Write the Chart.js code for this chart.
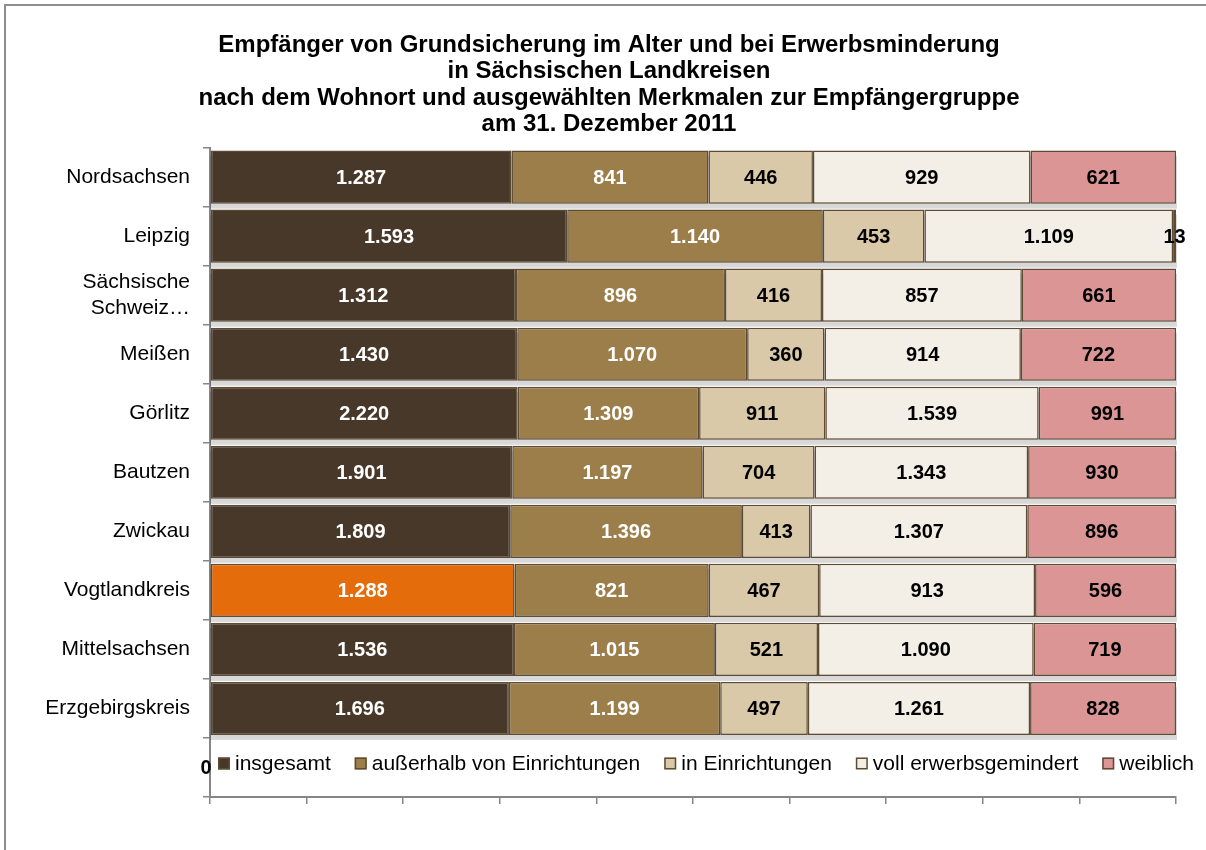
<!DOCTYPE html>
<html lang="de">
<head>
<meta charset="utf-8">
<script src="https://cdn.jsdelivr.net/npm/chart.js@4.4.1/dist/chart.umd.min.js"></script>
<style>
	body { margin: 0; background: #fff; }
	#wrap { position: relative; width: 1206px; height: 850px; overflow: hidden; }
	#rahmen {
		position: absolute; left: 4px; top: 4px; width: 1300px; height: 1000px;
		border-left: 2px solid #8e8e8e; border-top: 2px solid #8e8e8e;
	}
	#grafik { position: absolute; left: 0; top: 0; }
</style>
</head>
<body>
<div id="wrap">
	<div id="rahmen"></div>
	<canvas id="grafik" width="1206" height="850"></canvas>
</div>
<script>
// Landkreise (letzte Zeile leer, dort steht die Legende)
const kreise = ["Nordsachsen", "Leipzig", ["Sächsische", "Schweiz…"], "Meißen", "Görlitz",
	"Bautzen", "Zwickau", "Vogtlandkreis", "Mittelsachsen", "Erzgebirgskreis", ""];

const insgesamt = [1287, 1593, 1312, 1430, 2220, 1901, 1809, 1288, 1536, 1696, 0];
const ausserhalb = [841, 1140, 896, 1070, 1309, 1197, 1396, 821, 1015, 1199, 0];
const inEinrichtungen = [446, 453, 416, 360, 911, 704, 413, 467, 521, 497, 0];
const vollErwerbsgemindert = [929, 1109, 857, 914, 1539, 1343, 1307, 913, 1090, 1261, 0];
const weiblich = [621, 13, 661, 722, 991, 930, 896, 596, 719, 828, 0];

const reihenNamen = ["insgesamt", "außerhalb von Einrichtungen", "in Einrichtungen", "voll erwerbsgemindert", "weiblich"];
const reihenWerte = [insgesamt, ausserhalb, inEinrichtungen, vollErwerbsgemindert, weiblich];

// Farben
const farben = ["#47382a", "#9c7e4a", "#d9c9a9", "#f3efe6", "#db9595"];
const textFarben = ["#ffffff", "#ffffff", "#000000", "#000000", "#000000"];
const rand = "#5e4b33";
const hervorgehoben = 7; // Vogtlandkreis
const orange = "#e46c0a";

const schrift = "Arial, 'Liberation Sans', sans-serif";

// Summe je Kreis für 100%-Darstellung
const summen = kreise.map((k, i) => reihenWerte.reduce((s, r) => s + r[i], 0));

function format(zahl) {
	return String(zahl).replace(/\B(?=(\d{3})+(?!\d))/g, ".");
}

const datasets = reihenWerte.map((werte, d) => ({
	label: reihenNamen[d],
	data: werte.map((v, i) => (summen[i] > 0 ? (v / summen[i]) * 100 : 0)),
	roh: werte,
	backgroundColor: werte.map((v, i) => (d === 0 && i === hervorgehoben ? orange : farben[d])),
	borderColor: rand,
	borderWidth: 1.5,
	borderSkipped: false,
	barPercentage: 0.9,
	categoryPercentage: 1,
}));

// Schatten unter den Balken
const schatten = {
	id: "schatten",
	beforeDatasetsDraw(chart) {
		const ctx = chart.ctx;
		const x = chart.scales.x;
		const meta = chart.getDatasetMeta(0);
		ctx.save();
		ctx.fillStyle = "rgba(0,0,0,0.14)";
		ctx.shadowColor = "rgba(0,0,0,0.15)";
		ctx.shadowBlur = 3;
		meta.data.forEach((bar, i) => {
			if (summen[i] === 0) return;
			const l = x.getPixelForValue(0);
			const r = x.getPixelForValue(100);
			ctx.fillRect(l, bar.y - bar.height / 2 + 5, r - l + 1, bar.height);
		});
		ctx.restore();
	},
};

// Werte in die Balken schreiben
const beschriftung = {
	id: "beschriftung",
	afterDatasetsDraw(chart) {
		const ctx = chart.ctx;
		ctx.save();
		ctx.font = "bold 20px " + schrift;
		ctx.textAlign = "center";
		ctx.textBaseline = "middle";
		chart.data.datasets.forEach((ds, d) => {
			const meta = chart.getDatasetMeta(d);
			meta.data.forEach((bar, i) => {
				if (summen[i] === 0) {
					if (d === 0) {
						ctx.fillStyle = "#000";
						ctx.fillText("0", bar.base - 4, bar.y + 1);
					}
					return;
				}
				ctx.fillStyle = textFarben[d];
				ctx.fillText(format(ds.roh[i]), (bar.x + bar.base) / 2, bar.y + 1);
			});
		});
		ctx.restore();
	},
};

// Legende in der leeren letzten Zeile
const legende = {
	id: "legende",
	afterDraw(chart) {
		const ctx = chart.ctx;
		const y = chart.scales.y.getPixelForValue(kreise.length - 1) - 4;
		let x = chart.scales.x.getPixelForValue(0) + 8;
		ctx.save();
		ctx.font = "21px " + schrift;
		ctx.textBaseline = "middle";
		reihenNamen.forEach((name, d) => {
			ctx.fillStyle = farben[d];
			ctx.fillRect(x, y - 6, 12, 12);
			ctx.strokeStyle = rand;
			ctx.lineWidth = 1.5;
			ctx.strokeRect(x + 0.75, y - 5.25, 10.5, 10.5);
			ctx.fillStyle = "#000";
			ctx.fillText(name, x + 17, y + 1);
			x += 17 + ctx.measureText(name).width + 24;
		});
		ctx.restore();
	},
};

new Chart(document.getElementById("grafik"), {
	type: "bar",
	data: { labels: kreise, datasets: datasets },
	plugins: [schatten, beschriftung, legende],
	options: {
		indexAxis: "y",
		responsive: false,
		animation: false,
		layout: { padding: { left: 42, right: 30, top: 0, bottom: 0 } },
		plugins: {
			legend: { display: false },
			tooltip: { enabled: false },
			title: {
				display: true,
				text: [
					"Empfänger von Grundsicherung im Alter und bei Erwerbsminderung",
					"in Sächsischen Landkreisen",
					"nach dem Wohnort und ausgewählten Merkmalen zur Empfängergruppe",
					"am 31. Dezember 2011",
				],
				color: "#000",
				font: { family: schrift, size: 24, weight: "bold", lineHeight: 1.1 },
				padding: { top: 32, bottom: 10 },
			},
		},
		scales: {
			x: {
				stacked: true,
				min: 0,
				max: 100,
				ticks: { display: false, stepSize: 10 },
				grid: { drawOnChartArea: false, drawTicks: true, tickLength: 7, color: "#868686", lineWidth: 1.5 },
				border: { color: "#868686", width: 2 },
				afterFit(scale) { scale.height = 53; },
			},
			y: {
				stacked: true,
				ticks: { color: "#000", font: { family: schrift, size: 21 }, padding: 13 },
				grid: { drawOnChartArea: false, drawTicks: true, tickLength: 7, color: "#868686", lineWidth: 1.5, offset: true },
				border: { color: "#868686", width: 2 },
				afterFit(scale) { scale.width = 168; },
			},
		},
	},
});
</script>
</body>
</html>
